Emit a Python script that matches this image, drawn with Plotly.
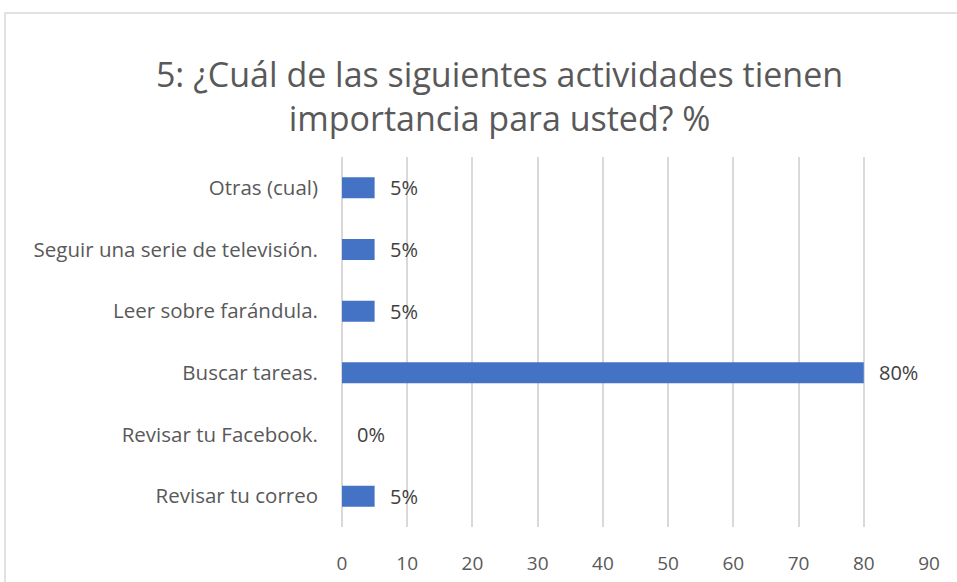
import plotly.graph_objects as go

categories = ["Revisar tu correo", "Revisar tu Facebook.", "Buscar tareas.",
              "Leer sobre farándula.", "Seguir una serie de televisión.", "Otras (cual)"]
values = [5, 0, 80, 5, 5, 5]
tick_vals = [0, 10, 20, 30, 40, 50, 60, 70, 80, 90]

title_text = "5: ¿Cuál de las siguientes actividades tienen<br>importancia para usted? %"

font_family = "'Open Sans', sans-serif"
grey = "#595959"

fig = go.Figure(go.Bar(
    x=values,
    y=categories,
    orientation="h",
    marker=dict(color="#4472C4", line=dict(width=0)),
    width=0.34,
))

# data labels sit a little to the right of each bar end
for cat, v in zip(categories, values):
    fig.add_annotation(x=v, y=cat, text=f"{v}%", showarrow=False,
                       xanchor="left", xshift=13,
                       font=dict(size=20, color="#404040", family=font_family))

fig.update_layout(
    width=957, height=582,
    margin=dict(l=342, r=28, t=157, b=55),
    paper_bgcolor="white",
    plot_bgcolor="white",
    showlegend=False,
    font=dict(family=font_family, color=grey, size=20),
    title=dict(text=title_text, xref="container", x=0.522, xanchor="center",
               y=0.851, yanchor="top",
               font=dict(size=34, color=grey, family=font_family)),
    xaxis=dict(range=[0, 90], tickvals=tick_vals, showgrid=True, gridcolor="#d9d9d9",
               gridwidth=1.5, zeroline=True, zerolinecolor="#d9d9d9", zerolinewidth=1.5,
               showline=False, ticks="", tickfont=dict(size=19, color=grey),
               ticklabelstandoff=23, automargin=False),
    yaxis=dict(showgrid=False, ticks="", showline=False, ticklabelstandoff=23,
               tickfont=dict(size=20.5, color=grey), automargin=False),
    shapes=[dict(type="rect", xref="paper", yref="paper",
                 x0=-337 / 587, x1=1.2, y0=-0.3, y1=(582 - 13 - 55) / 370,
                 line=dict(color="#d9d9d9", width=1.5), fillcolor="rgba(0,0,0,0)")],
)

fig.write_html("out.html", config={"displayModeBar": False},
               post_script="document.body.style.margin='0';")
